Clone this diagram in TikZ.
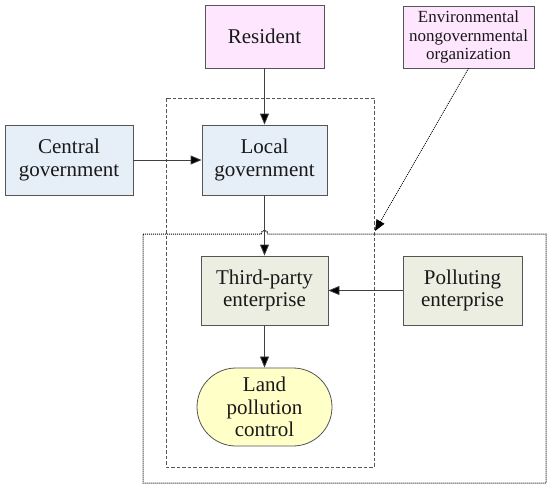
\documentclass[tikz,border=0pt]{standalone}
\usepackage{fontspec}
\setmainfont{Liberation Serif}
\usepackage{xcolor}
\usetikzlibrary{arrows.meta,shapes.misc}

\definecolor{respink}{HTML}{FFE6FF}
\definecolor{govblue}{HTML}{E6EEF8}
\definecolor{entgreen}{HTML}{EBEEE0}
\definecolor{ctrlyellow}{HTML}{FFFFC8}
\definecolor{edgegray}{HTML}{555555}

\tikzset{
  actor/.style={draw=edgegray,line width=0.8pt,align=center,inner sep=0pt,
    text=black!90,font=\fontsize{21}{22.5}\selectfont},
  flow/.style={draw=black!75,line width=0.8pt,-{Triangle[length=11pt,width=9pt,fill=black]}},
  dotline/.style={draw=black,line width=1pt,dash pattern=on 1.2pt off 0.8pt},
}

\begin{document}
\begin{tikzpicture}[x=1pt,y=-1pt]
  \useasboundingbox (0,0) rectangle (550,488);
  % actors
  \node[actor,fill=respink,minimum width=119pt,minimum height=63pt] (res) at (264.5,36.5) {Resident};
  \node[actor,fill=respink,minimum width=131pt,minimum height=62pt,
        font=\fontsize{17}{18.3}\selectfont] (ngo) at (468.5,37) {Environmental\\nongovernmental\\organization};
  \node[actor,fill=govblue,minimum width=128pt,minimum height=70pt] (cen) at (69,160) {Central\\government};
  \node[actor,fill=govblue,minimum width=125pt,minimum height=70pt] (loc) at (264.5,160) {Local\\government};
  \node[actor,fill=entgreen,minimum width=127pt,minimum height=69pt] (thp) at (264.5,290.5) {Third-party\\enterprise};
  \node[actor,fill=entgreen,minimum width=119pt,minimum height=69pt] (pol) at (462.5,290.5) {Polluting\\enterprise};
  \node[actor,fill=ctrlyellow,rounded rectangle,minimum width=135pt,minimum height=78pt] (lpc) at (264.5,407) {Land\\pollution\\control};
  % frames
  \draw[edgegray,line width=0.9pt,dash pattern=on 3.5pt off 2pt] (166,98) rectangle (374,467);
  \draw[dotline]
    (143,234) -- (261,234) arc[start angle=180,end angle=360,radius=3.5] -- (546,234)
    -- (546,483) -- (143,483) -- cycle;
  % connectors
  \coordinate (ngotip) at (375,231);
  \draw[flow] (res) -- (loc);
  \draw[flow] (cen) -- (loc);
  \draw[flow] (loc) -- (thp);
  \draw[flow] (pol) -- (thp);
  \draw[flow] (thp) -- (lpc);
  \draw[flow,draw=black,dash pattern=on 1pt off 1pt] (ngo.south) -- (ngotip);
\end{tikzpicture}
\end{document}
